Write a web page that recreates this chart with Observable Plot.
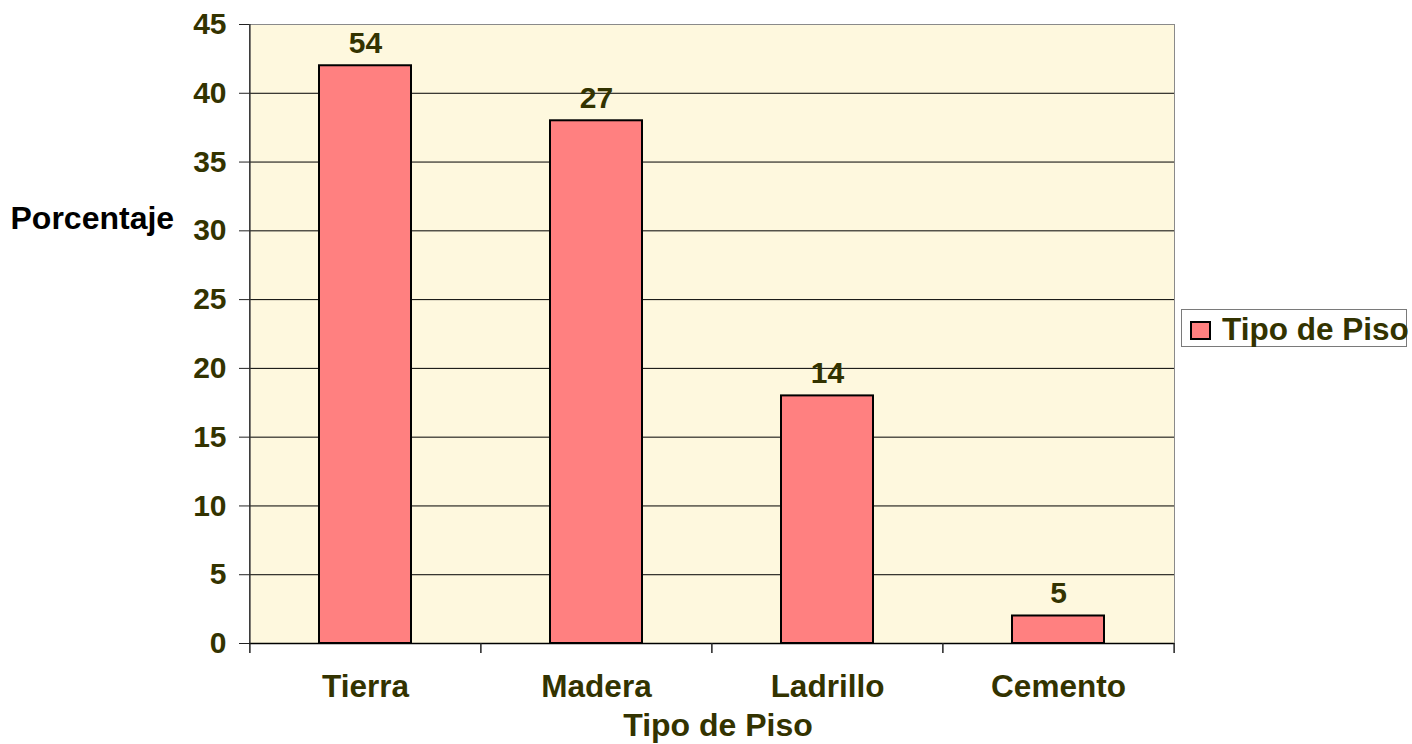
<!DOCTYPE html>
<html>
<head>
<meta charset="utf-8">
<script src="https://cdn.jsdelivr.net/npm/d3@7"></script>
<script src="https://cdn.jsdelivr.net/npm/@observablehq/plot@0.6"></script>
<style>
  html, body { margin: 0; padding: 0; background: #ffffff; }
  #wrap { position: relative; width: 1412px; height: 744px; font-family: "Liberation Sans", Arial, sans-serif; font-weight: bold; }
  #legend { position: absolute; left: 1181px; top: 309px; width: 224px; height: 36px; border: 1px solid #7a7a7a; background: #fff; box-sizing: content-box; overflow: visible; }
  #legend .sw { position: absolute; left: 8px; top: 11px; width: 17px; height: 15px; background: #FF8080; border: 2px solid #000; }
  #legend .lb { position: absolute; left: 40px; top: 0px; line-height: 38px; font-size: 31.5px; color: #333300; white-space: nowrap; }
</style>
</head>
<body>
<div id="wrap"></div>
<script>
const categories = ["Tierra", "Madera", "Ladrillo", "Cemento"];
const values = [42, 38, 18, 2];
const barLabels = ["54", "27", "14", "5"];
const yTicks = [0, 5, 10, 15, 20, 25, 30, 35, 40, 45];
const xTitle = "Tipo de Piso";
const yTitle = "Porcentaje";
const seriesName = "Tipo de Piso";

const data = categories.map((c, i) => ({cat: c, value: values[i], label: barLabels[i]}));

const W = 1412, H = 744, mL = 249, mR = 238, mT = 24, mB = 101;
const step = (W - mL - mR) / categories.length;
const olive = "#333300";

const chart = Plot.plot({
  width: W, height: H,
  marginLeft: mL, marginRight: mR, marginTop: mT, marginBottom: mB,
  style: {fontFamily: "'Liberation Sans', Arial, sans-serif", fontWeight: "bold", background: "#ffffff", overflow: "visible"},
  x: {domain: categories, paddingInner: 0.6, paddingOuter: 0.3},
  y: {domain: [0, 45]},
  marks: [
    Plot.frame({fill: "#FEF8DE", stroke: "#8a8a8a"}),
    Plot.ruleY(yTicks.filter(d => d > 0 && d < 45), {stroke: "#000", strokeWidth: 1}),
    Plot.barY(data, {x: "cat", y: "value", fill: "#FF8080", stroke: "#000", strokeWidth: 2}),
    Plot.ruleY([0], {stroke: "#000", strokeWidth: 1.5}),
    Plot.ruleX(categories, {x: d => d, dx: -step / 2, y1: 0, y2: 0, insetBottom: -10, stroke: "#222", strokeWidth: 1.5}),
    Plot.ruleX([categories[categories.length - 1]], {x: d => d, dx: step / 2, y1: 0, y2: 0, insetBottom: -10, stroke: "#222", strokeWidth: 1.5}),
    Plot.axisY({ticks: yTicks, tickSize: 10, tickPadding: 13, fontSize: 30, fill: olive, stroke: "#222", label: null, tickFormat: d => String(d)}),
    Plot.ruleX([categories[0]], {x: d => d, dx: -step / 2, stroke: "#333", strokeWidth: 1.5}),
    Plot.axisX({tickSize: 0, tickPadding: 31, fontSize: 31.5, fill: olive, label: null}),
    Plot.text(data, {x: "cat", y: "value", text: "label", dy: -13, lineAnchor: "bottom", fontSize: 30, fill: olive}),
    Plot.text([xTitle], {frameAnchor: "bottom", dx: 6, dy: 92, text: d => d, fontSize: 32, fill: olive}),
    Plot.text([yTitle], {frameAnchor: "left", dx: -239, dy: -115, textAnchor: "start", text: d => d, fontSize: 32, fill: "#000"})
  ]
});

const wrap = document.getElementById("wrap");
wrap.appendChild(chart);
const legend = document.createElement("div");
legend.id = "legend";
legend.innerHTML = '<div class="sw"></div><div class="lb"></div>';
legend.querySelector(".lb").textContent = seriesName;
wrap.appendChild(legend);
</script>
</body>
</html>
